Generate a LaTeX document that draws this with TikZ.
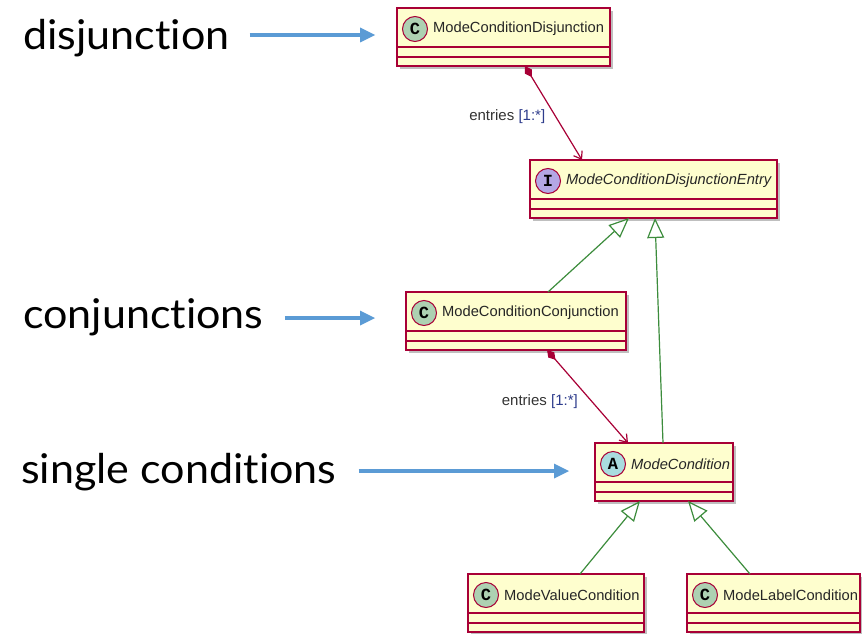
\documentclass[tikz,border=0pt]{standalone}
\usepackage{fontspec}
\setmainfont{Liberation Sans}
\setmonofont{Liberation Mono}
\newfontfamily\notefont[FakeStretch=1.05,Ligatures={NoCommon,NoRare}]{Lato}
\usepackage{tikz}
\usetikzlibrary{positioning}
\usetikzlibrary{arrows.meta}
\usetikzlibrary{shadows}
\definecolor{umlred}{HTML}{A80036}
\definecolor{umlfill}{HTML}{FEFECE}
\definecolor{umlgreen}{HTML}{3C8C3C}
\definecolor{cbadge}{HTML}{ADD1B2}
\definecolor{ibadge}{HTML}{B4A7E5}
\definecolor{abadge}{HTML}{A9DCDF}
\definecolor{noteblue}{HTML}{5B9BD5}
\definecolor{multblue}{HTML}{2E3C8C}
\tikzstyle{umlclass}=[draw=umlred,fill=umlfill,line width=1.5pt,minimum height=58pt,anchor=north west,inner sep=0pt,outer sep=0pt,drop shadow={shadow xshift=3pt,shadow yshift=-3pt,fill=black,opacity=.25}]
\tikzstyle{compline}=[draw=umlred,line width=1.5pt]
\tikzstyle{badge}=[circle,draw=umlred,line width=1pt,minimum size=25pt,inner sep=0pt,font=\ttfamily\bfseries\fontsize{17}{17}\selectfont]
\tikzstyle{classname}=[inner sep=0pt,text=black!85,font=\fontsize{14.7}{16}\selectfont]
\tikzstyle{abstractname}=[classname,font=\fontsize{14.7}{16}\selectfont\itshape]
\tikzstyle{mult}=[inner sep=0pt,text=black!80,font=\fontsize{15}{17}\selectfont]
\tikzstyle{composition}=[draw=umlred,line width=1.2pt,arrows={Diamond[length=13pt,width=8pt,fill=umlred]-Straight Barb[length=7pt,width=10pt]}]
\tikzstyle{extends}=[draw=umlgreen,line width=1.2pt,arrows={-Triangle[open,length=20pt,width=17pt,fill=white]}]
\tikzstyle{note}=[inner sep=0pt,anchor=base west,font=\notefont\fontsize{41}{45}\selectfont]
\tikzstyle{pointer}=[draw=noteblue,line width=4.5pt,arrows={-Triangle[length=15pt,width=15pt,line width=0pt]}]

\begin{document}
\begin{tikzpicture}[x=1pt,y=-1pt]
  \useasboundingbox (0,0) rectangle (862,634);
  % class boxes
  \node[umlclass,minimum width=213pt] at (397,8) (dis) {};
  \node[umlclass,minimum width=247pt] at (530,160) (entry) {};
  \node[umlclass,minimum width=220pt] at (406,292) (conj) {};
  \node[umlclass,minimum width=138pt] at (595,443) (mc) {};
  \node[umlclass,minimum width=176pt] at (468,574) (mvc) {};
  \node[umlclass,minimum width=173pt] at (687,574) (mlc) {};
  \foreach \c in {dis,entry,conj,mc,mvc,mlc} {
    \draw[compline] ([yshift=-39pt]\c.north west) -- ([yshift=-39pt]\c.north east);
    \draw[compline] ([yshift=-49pt]\c.north west) -- ([yshift=-49pt]\c.north east);
  }
  % headers
  \node[badge,fill=cbadge] at ([xshift=18pt,yshift=-21pt]dis.north west) (disC) {C};
  \node[classname,right=5pt of disC] (disN) {ModeConditionDisjunction};
  \node[badge,fill=ibadge] at ([xshift=18pt,yshift=-21pt]entry.north west) (entryI) {I};
  \node[abstractname,right=5pt of entryI] (entryN) {ModeConditionDisjunctionEntry};
  \node[badge,fill=cbadge] at ([xshift=18pt,yshift=-21pt]conj.north west) (conjC) {C};
  \node[classname,right=5pt of conjC] (conjN) {ModeConditionConjunction};
  \node[badge,fill=abadge] at ([xshift=18pt,yshift=-21pt]mc.north west) (mcA) {A};
  \node[abstractname,right=5pt of mcA] (mcN) {ModeCondition};
  \node[badge,fill=cbadge] at ([xshift=18pt,yshift=-21pt]mvc.north west) (mvcC) {C};
  \node[classname,right=5pt of mvcC] (mvcN) {ModeValueCondition};
  \node[badge,fill=cbadge] at ([xshift=18pt,yshift=-21pt]mlc.north west) (mlcC) {C};
  \node[classname,right=5pt of mlcC] (mlcN) {ModeLabelCondition};
  % relations
  \draw[composition] ([xshift=21.5pt]dis.south) -- node[mult,pos=.54,anchor=east,xshift=-10pt] {entries \textcolor{multblue}{[1:*]}} ([xshift=-71.5pt]entry.north);
  \draw[composition] ([xshift=31pt]conj.south) -- node[mult,pos=.56,anchor=east,xshift=-14pt] {entries \textcolor{multblue}{[1:*]}} ([xshift=-36pt]mc.north);
  \draw[extends] ([xshift=32pt]conj.north) -- ([xshift=-24.5pt]entry.south);
  \draw[extends] ([xshift=-1pt]mc.north) -- ([xshift=1.5pt]entry.south);
  \draw[extends] ([xshift=24pt]mvc.north) -- ([xshift=-24pt]mc.south);
  \draw[extends] ([xshift=-23.5pt]mlc.north) -- ([xshift=24pt]mc.south);
  % notes
  \node[note] at (23,50) (ndis) {disjunction};
  \node[note] at (23,328) (nconj) {conjunctions};
  \node[note] at (21,483) (nsingle) {single conditions};
  \draw[pointer] ([xshift=20pt,yshift=15pt]ndis.base east) -- ([xshift=-22pt,yshift=15pt]ndis.base east -| dis.west);
  \draw[pointer] ([xshift=21pt,yshift=10pt]nconj.base east) -- ([xshift=-31pt,yshift=10pt]nconj.base east -| conj.west);
  \draw[pointer] ([xshift=22pt,yshift=12pt]nsingle.base east) -- ([xshift=-26pt,yshift=12pt]nsingle.base east -| mc.west);
\end{tikzpicture}
\end{document}
